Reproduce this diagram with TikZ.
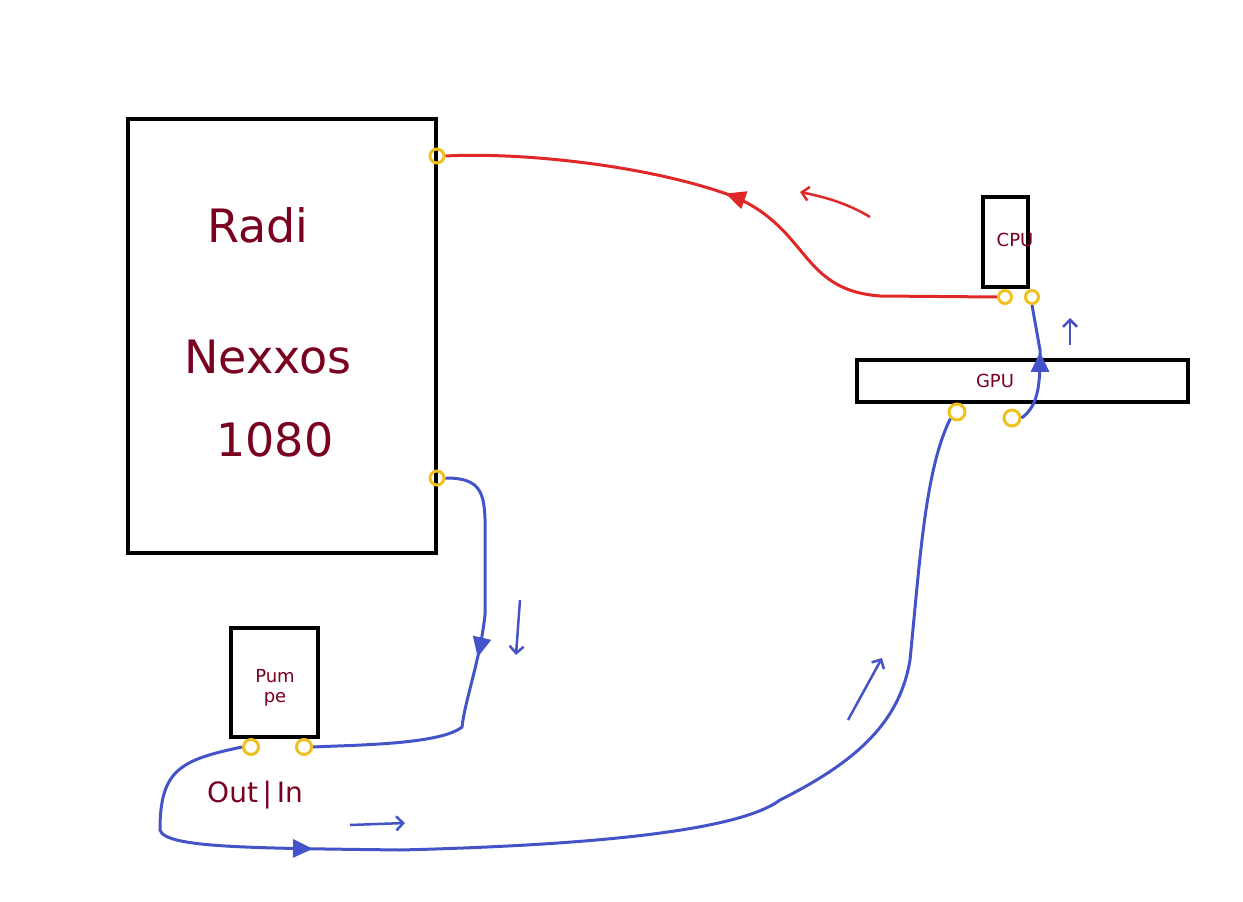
\documentclass[tikz,border=0pt]{standalone}
\usepackage{fontspec}
\setmainfont{DejaVu Sans}
\usetikzlibrary{arrows.meta,decorations.markings}
\definecolor{rd}{HTML}{E02828}
\definecolor{bl}{HTML}{4454C8}
\definecolor{yl}{HTML}{F0C020}
\definecolor{tx}{HTML}{7A0020}
\begin{document}
\begin{tikzpicture}[x=1pt,y=-1pt,
 box/.style={draw=black,line width=3.5pt},
 lbl/.style={text=tx,font=\fontsize{#1}{#1}\selectfont},
 port/.style={draw=yl,line width=3pt,circle,inner sep=0pt,minimum size=14pt},
 pipeR/.style={draw=rd,line width=3pt},
 pipeB/.style={draw=bl,line width=3pt},
 arr/.style={postaction={decorate},decoration={markings,mark=at position #1 with {\arrow{Triangle[length=20pt,width=18pt]}}}},
 hint/.style={line width=2.5pt,-{Straight Barb[length=7pt]}}]
\useasboundingbox (0,0) rectangle (1243,902);
\draw[box] (128,119) rectangle (436,553);
\node[lbl=46] (radi) at (258,225) {Radi};
\node[lbl=46] (nex) at (268,357) {Nexxos};
\node[lbl=46] (num) at (275,440) {1080};
\draw[box] (983,197) rectangle (1028,287);
\node[lbl=18] (cpu) at (1015,240) {CPU};
\draw[box] (857,360) rectangle (1188,402);
\node[lbl=18] (gpu) at (995,381) {GPU};
\draw[box] (231,628) rectangle (318,737);
\node[lbl=18,align=center] (pump) at (275,688) {Pum\\[2pt]pe};
\node[lbl=28] (oi) at (255,795) {Out\,|\,In};
\node[port] (r1) at (437,156) {};
\node[port] (r2) at (437,478) {};
\node[port,minimum size=13pt] (c1) at (1005,297) {};
\node[port,minimum size=13pt] (c2) at (1032,297) {};
\node[port,minimum size=16pt] (g1) at (957,412) {};
\node[port,minimum size=16pt] (g2) at (1012,418) {};
\node[port,minimum size=15pt] (p1) at (251,747) {};
\node[port,minimum size=15pt] (p2) at (304,747) {};
% red return
\draw[pipeR,arr=0.52] (c1.west) -- (880,296) .. controls (800,290) and (810,230) .. (735,197) .. controls (650,165) and (520,152) .. (r1.east);
\draw[rd,hint] (870,217) .. controls (850,205) and (830,198) .. (800,192);
% blue loop
\draw[pipeB,arr=0.48] (r2.east) .. controls (490,478) and (485,500) .. (485,560) -- (485,615) .. controls (480,660) and (465,700) .. (462,727) .. controls (440,745) and (350,745) .. (p2.east);
\draw[bl,hint] (520,600) -- (516,655);
\draw[pipeB,arr=0.24] (p1.west) .. controls (180,760) and (160,770) .. (160,830) .. controls (165,848) and (250,848) .. (400,850) .. controls (600,845) and (740,830) .. (780,800) .. controls (860,760) and (900,720) .. (910,660) .. controls (920,560) and (925,470) .. (g1.south west);
\draw[bl,hint] (350,825) -- (405,823);
\draw[bl,hint] (848,720) -- (882,658);
\draw[pipeB,arr=0.6] (g2.east) .. controls (1040,405) and (1040,380) .. (1040,350) -- (c2.south);
\draw[bl,hint] (1070,345) -- (1070,318);
\end{tikzpicture}
\end{document}
